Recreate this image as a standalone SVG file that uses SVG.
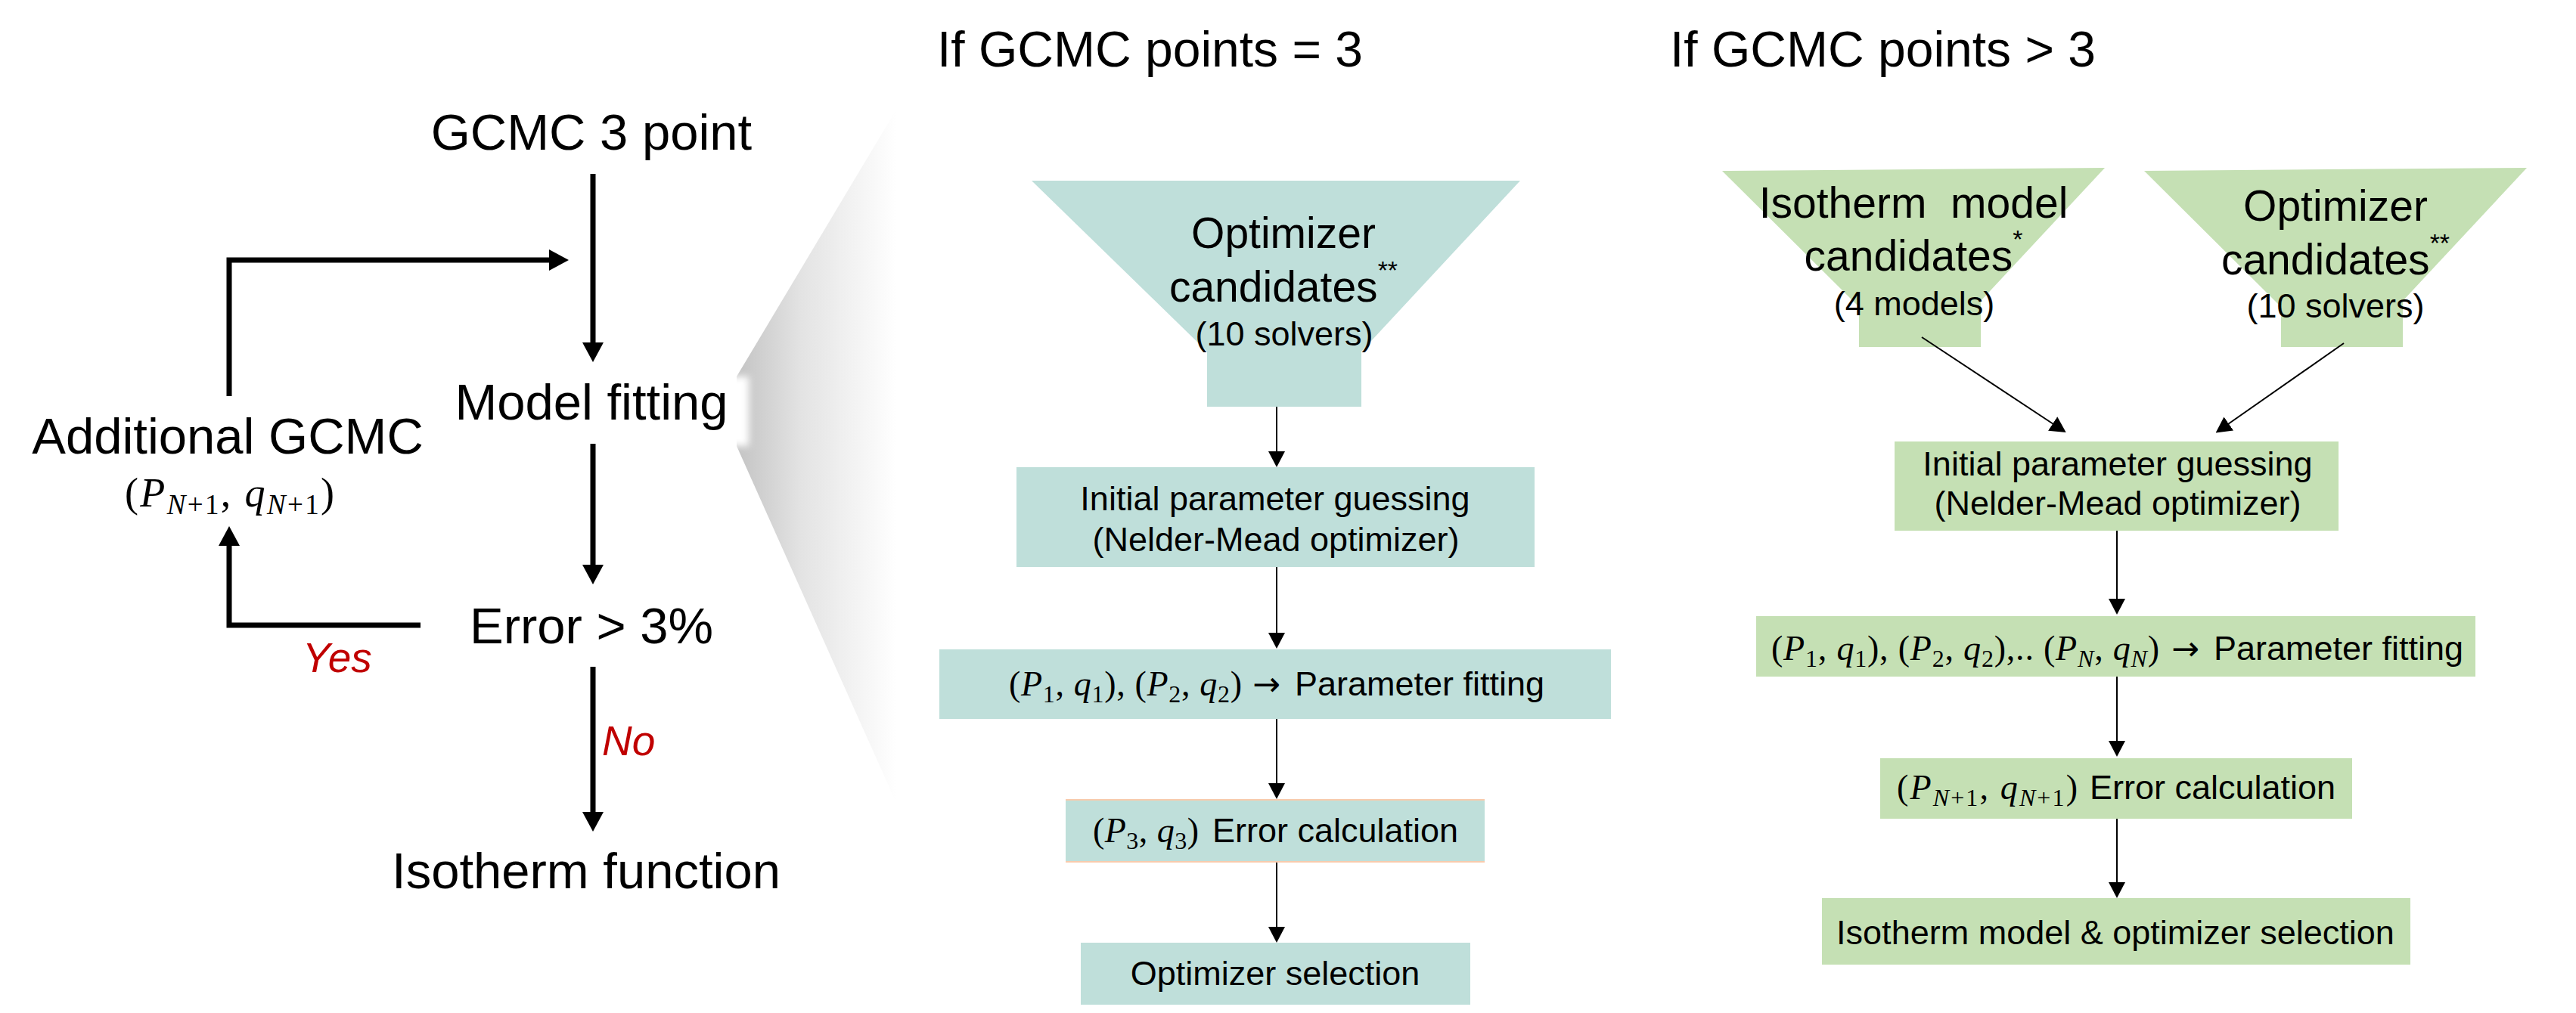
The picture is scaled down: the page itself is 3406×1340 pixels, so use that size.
<svg xmlns="http://www.w3.org/2000/svg" width="3406" height="1340" viewBox="0 0 3406 1340">
<style>
.t{font-family:"Liberation Sans",Arial,sans-serif;fill:#000}
.big{font-size:67px}
.title{font-size:66px}
.fn{font-size:57px}
.bx{font-size:45px}
.m{font-family:"Liberation Serif","Times New Roman",serif;font-size:46px;fill:#000}
.ml{font-size:54px}
.i{font-style:italic}
.sub{font-size:32px}
.subl{font-size:37px}
.ar{font-family:"DejaVu Sans",sans-serif}
.red{fill:#C00000;font-style:italic;font-size:55px}
.teal{fill:#BFDFDA}
.green{fill:#C5E0B4}
.thick{stroke:#000;stroke-width:7;fill:none;stroke-linejoin:miter}
.thin{stroke:#000;stroke-width:2;fill:none}
.peach{stroke:#F8CBAD;stroke-width:2}
</style>
<defs>
<marker id="hThick" markerUnits="userSpaceOnUse" markerWidth="26" markerHeight="28" refX="1" refY="14" orient="auto"><path d="M0,0 L26,14 L0,28 z" fill="#000"/></marker>
<marker id="hThin" markerUnits="userSpaceOnUse" markerWidth="21" markerHeight="22" refX="1" refY="11" orient="auto"><path d="M0,0 L21,11 L0,22 z" fill="#000"/></marker>
<linearGradient id="wedgeG" gradientUnits="userSpaceOnUse" x1="975" y1="0" x2="1185" y2="0">
<stop offset="0" stop-color="#c4c4c4"/><stop offset="0.4" stop-color="#e3e3e3"/><stop offset="1" stop-color="#ffffff"/>
</linearGradient>
<filter id="soft" x="-10%" y="-30%" width="120%" height="160%"><feGaussianBlur stdDeviation="5"/></filter>
</defs>
<rect width="3406" height="1340" fill="#fff"/>

<!-- zoom wedge -->
<g id="wedge">
<polygon points="974,498 1185,145 1185,1062 974,590" fill="url(#wedgeG)"/>
<rect x="578" y="498" width="412" height="92" fill="#fff" filter="url(#soft)"/>
</g>

<!-- titles -->
<g id="title1"><text class="t title" x="1239" y="88">If GCMC points = 3</text></g>
<g id="title2"><text class="t title" x="2208" y="88">If GCMC points &gt; 3</text></g>

<!-- left flow nodes -->
<g id="n-gcmc3"><text class="t big" x="782" y="198" text-anchor="middle">GCMC 3 point</text></g>
<g id="n-model"><text class="t big" x="782" y="555" text-anchor="middle">Model fitting</text></g>
<g id="n-error"><text class="t big" x="782" y="851" text-anchor="middle">Error &gt; 3%</text></g>
<g id="n-iso"><text class="t big" x="775" y="1175" text-anchor="middle">Isotherm function</text></g>
<g id="n-additional">
<text class="t big" x="301" y="600" text-anchor="middle">Additional GCMC</text>
<text class="m ml" x="165" y="670" textLength="277" lengthAdjust="spacing">(<tspan class="i">P</tspan><tspan class="subl" dy="10"><tspan class="i">N</tspan>+1</tspan><tspan dy="-10">, </tspan><tspan class="i">q</tspan><tspan class="subl" dy="10"><tspan class="i">N</tspan>+1</tspan><tspan dy="-10">)</tspan></text>
</g>

<!-- middle column (= 3) -->
<g id="f-opt1">
<polygon class="teal" points="1364,239 2010,239 1800,465 1800,538 1596,538 1596,465"/>
<text class="t fn" x="1697" y="328" text-anchor="middle">Optimizer</text>
<text class="t fn" x="1697" y="399" text-anchor="middle">candidates<tspan font-size="34" dy="-30">**</tspan></text>
<text class="t bx" x="1698" y="457" text-anchor="middle">(10 solvers)</text>
</g>
<g id="b-init1">
<rect class="teal" x="1344" y="618" width="685" height="132"/>
<text class="t bx" x="1686" y="675" text-anchor="middle">Initial parameter guessing</text>
<text class="t bx" x="1687" y="729" text-anchor="middle">(Nelder-Mead optimizer)</text>
</g>
<g id="b-fit1">
<rect class="teal" x="1242" y="859" width="888" height="92"/>
<text class="m" x="1334" y="920" textLength="308" lengthAdjust="spacing">(<tspan class="i">P</tspan><tspan class="sub" dy="9">1</tspan><tspan dy="-9">, </tspan><tspan class="i">q</tspan><tspan class="sub" dy="9">1</tspan><tspan dy="-9">), (</tspan><tspan class="i">P</tspan><tspan class="sub" dy="9">2</tspan><tspan dy="-9">, </tspan><tspan class="i">q</tspan><tspan class="sub" dy="9">2</tspan><tspan dy="-9">)</tspan></text>
<text class="t bx" x="1656" y="920"><tspan class="ar" font-size="44">→</tspan><tspan x="1712">Parameter fitting</tspan></text>
</g>
<g id="b-err1">
<rect class="teal" x="1409" y="1057" width="554" height="84"/>
<line class="peach" x1="1409" y1="1058" x2="1963" y2="1058"/>
<line class="peach" x1="1409" y1="1140" x2="1963" y2="1140"/>
<text class="m" x="1445" y="1114" textLength="140" lengthAdjust="spacing">(<tspan class="i">P</tspan><tspan class="sub" dy="9">3</tspan><tspan dy="-9">, </tspan><tspan class="i">q</tspan><tspan class="sub" dy="9">3</tspan><tspan dy="-9">)</tspan></text>
<text class="t bx" x="1603" y="1114">Error calculation</text>
</g>
<g id="b-sel1">
<rect class="teal" x="1429" y="1247" width="515" height="82"/>
<text class="t bx" x="1686" y="1303" text-anchor="middle">Optimizer selection</text>
</g>

<!-- right column (> 3) -->
<g id="f-iso">
<polygon class="green" points="2277,226 2783,222 2619,398 2619,459 2458,459 2458,406"/>
<text class="t fn" x="2530" y="288" text-anchor="middle" xml:space="preserve">Isotherm  model</text>
<text class="t fn" x="2530" y="358" text-anchor="middle">candidates<tspan font-size="34" dy="-30">*</tspan></text>
<text class="t bx" x="2531" y="417" text-anchor="middle">(4 models)</text>
</g>
<g id="f-opt2">
<polygon class="green" points="2835,226 3341,222 3177,398 3177,459 3016,459 3016,406"/>
<text class="t fn" x="3088" y="292" text-anchor="middle">Optimizer</text>
<text class="t fn" x="3088" y="363" text-anchor="middle">candidates<tspan font-size="34" dy="-30">**</tspan></text>
<text class="t bx" x="3088" y="420" text-anchor="middle">(10 solvers)</text>
</g>
<g id="b-init2">
<rect class="green" x="2505" y="584" width="587" height="118"/>
<text class="t bx" x="2800" y="629" text-anchor="middle">Initial parameter guessing</text>
<text class="t bx" x="2800" y="681" text-anchor="middle">(Nelder-Mead optimizer)</text>
</g>
<g id="b-fit2">
<rect class="green" x="2322" y="815" width="951" height="80"/>
<text class="m" x="2342" y="873" textLength="513" lengthAdjust="spacing">(<tspan class="i">P</tspan><tspan class="sub" dy="9">1</tspan><tspan dy="-9">, </tspan><tspan class="i">q</tspan><tspan class="sub" dy="9">1</tspan><tspan dy="-9">), (</tspan><tspan class="i">P</tspan><tspan class="sub" dy="9">2</tspan><tspan dy="-9">, </tspan><tspan class="i">q</tspan><tspan class="sub" dy="9">2</tspan><tspan dy="-9">),.. (</tspan><tspan class="i">P</tspan><tspan class="sub i" dy="9">N</tspan><tspan dy="-9">, </tspan><tspan class="i">q</tspan><tspan class="sub i" dy="9">N</tspan><tspan dy="-9">)</tspan></text>
<text class="t bx" x="2871" y="873"><tspan class="ar" font-size="44">→</tspan><tspan x="2927">Parameter fitting</tspan></text>
</g>
<g id="b-err2">
<rect class="green" x="2486" y="1003" width="624" height="80"/>
<text class="m" x="2508" y="1057" textLength="239" lengthAdjust="spacing">(<tspan class="i">P</tspan><tspan class="sub" dy="9"><tspan class="i">N</tspan>+1</tspan><tspan dy="-9">, </tspan><tspan class="i">q</tspan><tspan class="sub" dy="9"><tspan class="i">N</tspan>+1</tspan><tspan dy="-9">)</tspan></text>
<text class="t bx" x="2763" y="1057">Error calculation</text>
</g>
<g id="b-sel2">
<rect class="green" x="2409" y="1188" width="778" height="88"/>
<text class="t bx" x="2797" y="1249" text-anchor="middle">Isotherm model &amp; optimizer selection</text>
</g>

<!-- connectors -->
<g id="connectors">
<path class="thick" d="M784,230 V454" marker-end="url(#hThick)"/>
<path class="thick" d="M784,587 V748" marker-end="url(#hThick)"/>
<path class="thick" d="M784,882 V1075" marker-end="url(#hThick)"/>
<path class="thick" d="M303,524 V344 H727" marker-end="url(#hThick)"/>
<path class="thick" d="M556,827 H303 V721" marker-end="url(#hThick)"/>
<path class="thin" d="M1688,538 V598" marker-end="url(#hThin)"/>
<path class="thin" d="M1688,750 V838" marker-end="url(#hThin)"/>
<path class="thin" d="M1688,951 V1037" marker-end="url(#hThin)"/>
<path class="thin" d="M1688,1141 V1227" marker-end="url(#hThin)"/>
<path class="thin" d="M2541,446 L2715,561" marker-end="url(#hThin)"/>
<path class="thin" d="M3099,454 L2946,561" marker-end="url(#hThin)"/>
<path class="thin" d="M2799,702 V793" marker-end="url(#hThin)"/>
<path class="thin" d="M2799,895 V981" marker-end="url(#hThin)"/>
<path class="thin" d="M2799,1083 V1168" marker-end="url(#hThin)"/>
<text class="t red" x="400" y="889">Yes</text>
<text class="t red" x="796" y="999">No</text>
</g>
</svg>
